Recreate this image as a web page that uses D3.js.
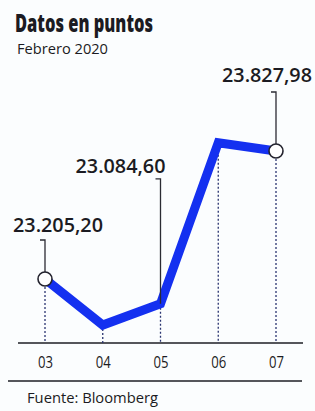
<!DOCTYPE html>
<html>
<head>
<meta charset="utf-8">
<script src="https://cdn.jsdelivr.net/npm/d3@7"></script>
<style>
  body { margin: 0; background: #fff; }
  svg { display: block; }
  text { font-family: "Open Sans", "Noto Sans", sans-serif; fill: #1b1b22; }
</style>
</head>
<body>
<svg></svg>
<script>
// datos
const days = ["03", "04", "05", "06", "07"];
const points = [23205.20, 22981, 23084.60, 23868, 23827.98];
const labelled = ["03", "05", "07"];

const svg = d3.select("svg").attr("width", 315).attr("height", 411);

svg.append("rect").attr("width", 315).attr("height", 411).attr("fill", "#fbfdfe");

svg.append("text").text("Datos en puntos")
  .attr("x", 15).attr("y", 32)
  .attr("font-size", 24).attr("font-weight", 800)
  .attr("textLength", 138).attr("lengthAdjust", "spacingAndGlyphs");
svg.append("text").text("Febrero 2020")
  .attr("x", 17).attr("y", 54)
  .attr("font-size", 14)
  .attr("textLength", 91).attr("lengthAdjust", "spacingAndGlyphs");

const x = d3.scalePoint().domain(days).range([45, 276]);
const y = d3.scaleLinear().domain([23205.20, 23827.98]).range([279, 151]);
const base = 343;

// eje
const axis = svg.append("g").attr("transform", `translate(0, ${base})`)
  .call(d3.axisBottom(x).tickSize(0).tickPadding(14));
axis.select(".domain").remove();
axis.append("line").attr("x1", 18).attr("x2", 303)
  .attr("stroke", "#1e1e24").attr("stroke-width", 1.6);
axis.selectAll(".tick text")
  .attr("font-family", "'Open Sans', sans-serif")
  .attr("font-size", 16).attr("fill", "#1b1b22")
  .attr("textLength", 15).attr("lengthAdjust", "spacingAndGlyphs");

const data = days.map((d, i) => ({ day: d, value: points[i] }));

// lineas punteadas
svg.selectAll(".drop").data(data).enter().append("line")
  .attr("class", "drop")
  .attr("x1", d => x(d.day)).attr("x2", d => x(d.day))
  .attr("y1", d => y(d.value)).attr("y2", base)
  .attr("stroke", "#2a3470").attr("stroke-width", 1.3)
  .attr("stroke-dasharray", "2,2");

const line = d3.line().x(d => x(d.day)).y(d => y(d.value));
svg.append("path").datum(data)
  .attr("d", line)
  .attr("fill", "none").attr("stroke", "#1430f0")
  .attr("stroke-width", 9).attr("stroke-linejoin", "miter");

// anotaciones
const fmt = v => d3.formatLocale({ decimal: ",", thousands: ".", grouping: [3], currency: ["", ""] }).format(",.2f")(v);
const notes = {
  "03": { top: 39, text: 47, dx: -32, anchor: "start" },
  "05": { top: 125, text: 131, dx: 5, anchor: "end" },
  "07": { top: 59, text: 69, dx: 36, anchor: "end" }
};
const ann = data.filter(d => labelled.includes(d.day));

svg.selectAll(".leader").data(ann).enter().append("path")
  .attr("class", "leader")
  .attr("d", d => {
    const px = x(d.day), top = y(d.value) - notes[d.day].top;
    return `M${px - 5},${top}H${px}V${y(d.value)}`;
  })
  .attr("fill", "none").attr("stroke", "#2b2b33").attr("stroke-width", 1.3);

svg.selectAll(".val").data(ann).enter().append("text")
  .attr("class", "val")
  .attr("x", d => x(d.day) + notes[d.day].dx)
  .attr("y", d => y(d.value) - notes[d.day].text)
  .attr("text-anchor", d => notes[d.day].anchor)
  .attr("font-size", 19).attr("font-weight", 600).attr("fill", "#15151c")
  .attr("textLength", 90).attr("lengthAdjust", "spacingAndGlyphs")
  .text(d => fmt(d.value));

svg.selectAll(".dot").data(data.filter(d => d.day === "03" || d.day === "07")).enter().append("circle")
  .attr("class", "dot")
  .attr("cx", d => x(d.day)).attr("cy", d => y(d.value)).attr("r", 7)
  .attr("fill", "#fff").attr("stroke", "#23232e").attr("stroke-width", 1.6);

// fuente
svg.append("line").attr("x1", 8).attr("x2", 302).attr("y1", 381).attr("y2", 381)
  .attr("stroke", "#1e1e24").attr("stroke-width", 1.6);
svg.append("text").text("Fuente: Bloomberg")
  .attr("x", 27).attr("y", 403)
  .attr("font-size", 14)
  .attr("textLength", 131).attr("lengthAdjust", "spacingAndGlyphs");
</script>
</body>
</html>
